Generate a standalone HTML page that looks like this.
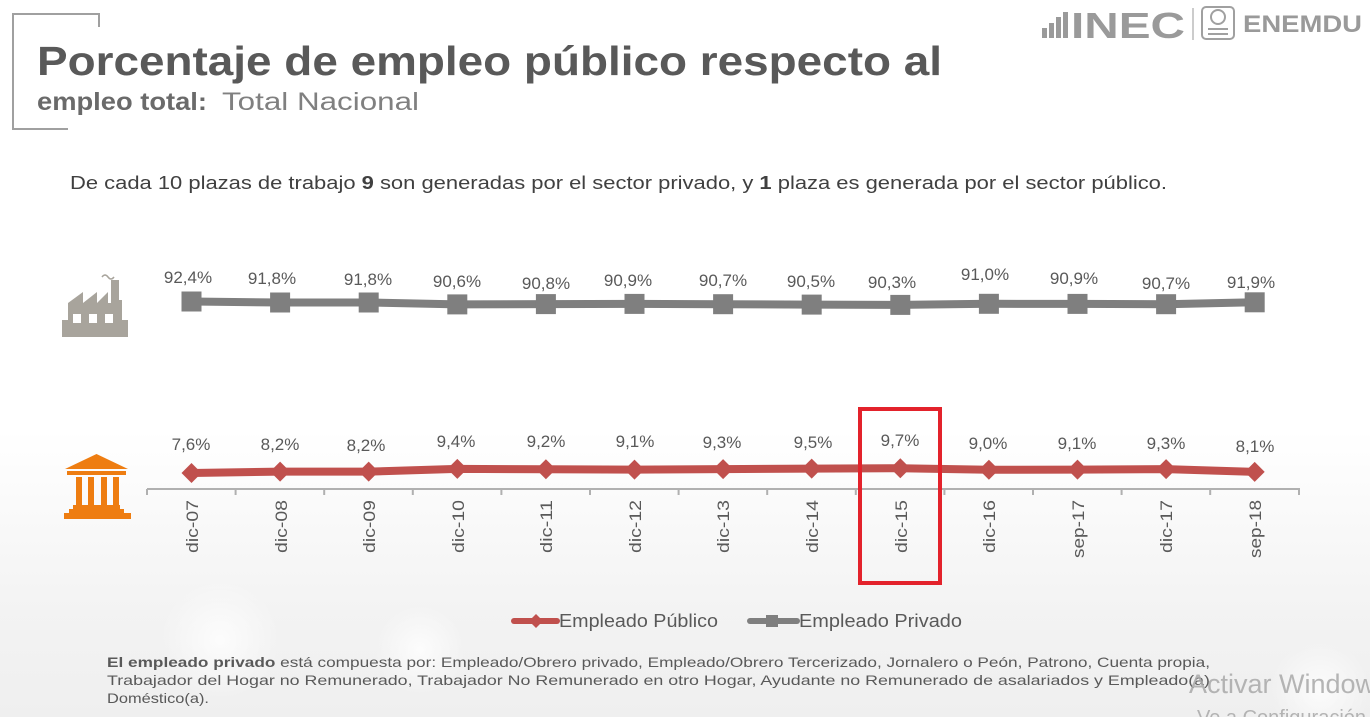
<!DOCTYPE html>
<html>
<head>
<meta charset="utf-8">
<style>
html,body{margin:0;padding:0;width:1370px;height:717px;overflow:hidden;background:#fff;}
svg{display:block;font-family:"Liberation Sans",sans-serif;}
</style>
</head>
<body>
<svg width="1370" height="717" viewBox="0 0 1370 717" xmlns="http://www.w3.org/2000/svg">
<defs>
<linearGradient id="bg" x1="0" y1="0" x2="0" y2="1">
<stop offset="0" stop-color="#ffffff"/>
<stop offset="0.6" stop-color="#ffffff"/>
<stop offset="0.85" stop-color="#f3f3f3"/>
<stop offset="1" stop-color="#efefef"/>
</linearGradient>
<radialGradient id="bk" cx="0.5" cy="0.5" r="0.5">
<stop offset="0" stop-color="#ffffff" stop-opacity="0.8"/>
<stop offset="1" stop-color="#ffffff" stop-opacity="0"/>
</radialGradient>
</defs>
<rect x="0" y="0" width="1370" height="717" fill="url(#bg)"/>
<circle cx="220" cy="640" r="60" fill="url(#bk)"/>
<circle cx="420" cy="650" r="45" fill="url(#bk)"/>
<circle cx="1320" cy="690" r="50" fill="url(#bk)"/>

<!-- bracket -->
<g stroke="#a0a0a0" stroke-width="2" fill="none">
<polyline points="99,27 99,14 13,14 13,129 68,129"/>
</g>

<!-- title -->
<text x="37" y="75" font-size="41" font-weight="bold" fill="#595959" textLength="905" lengthAdjust="spacingAndGlyphs">Porcentaje de empleo público respecto al</text>
<text x="37" y="110" font-size="25" font-weight="bold" fill="#6a6a6a" textLength="170" lengthAdjust="spacingAndGlyphs">empleo total:</text>
<text x="222" y="110" font-size="25" fill="#808080" textLength="197" lengthAdjust="spacingAndGlyphs">Total Nacional</text>

<!-- logo -->
<g fill="#9a9a9a">
<rect x="1042" y="28" width="5" height="10"/>
<rect x="1049" y="23" width="5" height="15"/>
<rect x="1056" y="17" width="5" height="21"/>
<rect x="1063" y="12" width="5" height="26"/>
<text x="1071" y="38" font-size="36" font-weight="bold" textLength="114" lengthAdjust="spacingAndGlyphs">INEC</text>
<rect x="1192" y="8" width="2" height="32" fill="#cccccc"/>
<text x="1243" y="32" font-size="24" font-weight="bold" textLength="119" lengthAdjust="spacingAndGlyphs">ENEMDU</text>
</g>
<g stroke="#a0a0a0" stroke-width="2" fill="none">
<rect x="1202" y="7" width="32" height="32" rx="4"/>
<circle cx="1218" cy="17" r="7"/>
<line x1="1208" y1="29" x2="1228" y2="29"/>
<line x1="1208" y1="34" x2="1228" y2="34"/>
</g>

<!-- subtitle -->
<text x="70" y="189" font-size="18" fill="#404040" textLength="1097" lengthAdjust="spacingAndGlyphs">De cada 10 plazas de trabajo <tspan font-weight="bold">9</tspan> son generadas por el sector privado, y <tspan font-weight="bold">1</tspan> plaza es generada por el sector público.</text>

<!-- factory icon -->
<g fill="#a8a49c">
<polygon points="68,337 68,303 83,292 83,303 97,292 97,303 108,292 108,303 111,303 111,280 119,280 119,320 122,320 122,337"/>
<rect x="62" y="320" width="66" height="17"/>
<rect x="111" y="300" width="11" height="22"/>
</g>
<path d="M102,277 q3,-4 6,0 q3,4 6,0" stroke="#a8a49c" stroke-width="1.5" fill="none"/>
<g fill="#ffffff">
<rect x="73" y="314" width="8" height="9"/>
<rect x="89" y="314" width="8" height="9"/>
<rect x="105" y="314" width="8" height="9"/>
</g>

<!-- temple icon -->
<g fill="#ee7d11">
<polygon points="65,469 96.5,454 128,469"/>
<rect x="67" y="471" width="59" height="4"/>
<rect x="76" y="477" width="6" height="28"/>
<rect x="88" y="477" width="6" height="28"/>
<rect x="101" y="477" width="6" height="28"/>
<rect x="113" y="477" width="6" height="28"/>
<rect x="73" y="505" width="47" height="4"/>
<rect x="69" y="509" width="55" height="4"/>
<rect x="64" y="513" width="67" height="6"/>
</g>

<!-- axis -->
<g stroke="#b0b0b0" stroke-width="2">
<line x1="147" y1="489" x2="1300" y2="489"/>
<line x1="147" y1="489" x2="147" y2="495"/>
<line x1="235.6" y1="489" x2="235.6" y2="495"/>
<line x1="324.2" y1="489" x2="324.2" y2="495"/>
<line x1="412.8" y1="489" x2="412.8" y2="495"/>
<line x1="501.4" y1="489" x2="501.4" y2="495"/>
<line x1="590" y1="489" x2="590" y2="495"/>
<line x1="678.6" y1="489" x2="678.6" y2="495"/>
<line x1="767.2" y1="489" x2="767.2" y2="495"/>
<line x1="855.8" y1="489" x2="855.8" y2="495"/>
<line x1="944.4" y1="489" x2="944.4" y2="495"/>
<line x1="1033" y1="489" x2="1033" y2="495"/>
<line x1="1121.6" y1="489" x2="1121.6" y2="495"/>
<line x1="1210.2" y1="489" x2="1210.2" y2="495"/>
<line x1="1299" y1="489" x2="1299" y2="495"/>
</g>

<!-- x labels -->
<g font-size="17" fill="#595959" text-anchor="end">
<text transform="translate(198,500) rotate(-90)" textLength="53" lengthAdjust="spacingAndGlyphs">dic-07</text>
<text transform="translate(287,500) rotate(-90)" textLength="53" lengthAdjust="spacingAndGlyphs">dic-08</text>
<text transform="translate(375,500) rotate(-90)" textLength="53" lengthAdjust="spacingAndGlyphs">dic-09</text>
<text transform="translate(464,500) rotate(-90)" textLength="53" lengthAdjust="spacingAndGlyphs">dic-10</text>
<text transform="translate(552,500) rotate(-90)" textLength="53" lengthAdjust="spacingAndGlyphs">dic-11</text>
<text transform="translate(641,500) rotate(-90)" textLength="53" lengthAdjust="spacingAndGlyphs">dic-12</text>
<text transform="translate(729,500) rotate(-90)" textLength="53" lengthAdjust="spacingAndGlyphs">dic-13</text>
<text transform="translate(818,500) rotate(-90)" textLength="53" lengthAdjust="spacingAndGlyphs">dic-14</text>
<text transform="translate(907,500) rotate(-90)" textLength="53" lengthAdjust="spacingAndGlyphs">dic-15</text>
<text transform="translate(995,500) rotate(-90)" textLength="53" lengthAdjust="spacingAndGlyphs">dic-16</text>
<text transform="translate(1084,500) rotate(-90)" textLength="58" lengthAdjust="spacingAndGlyphs">sep-17</text>
<text transform="translate(1172,500) rotate(-90)" textLength="53" lengthAdjust="spacingAndGlyphs">dic-17</text>
<text transform="translate(1261,500) rotate(-90)" textLength="58" lengthAdjust="spacingAndGlyphs">sep-18</text>
</g>

<!-- private series -->
<polyline fill="none" stroke="#7f7f7f" stroke-width="8" stroke-linejoin="round"
points="191.5,301.5 280.1,302.5 368.7,302.5 457.3,304.4 545.9,304.1 634.5,303.9 723.1,304.2 811.7,304.6 900.3,304.9 988.9,303.8 1077.5,303.9 1166.1,304.2 1254.7,302.3"/>
<g fill="#7f7f7f">
<rect x="181.5" y="291.5" width="20" height="20"/>
<rect x="270.1" y="292.5" width="20" height="20"/>
<rect x="358.7" y="292.5" width="20" height="20"/>
<rect x="447.3" y="294.4" width="20" height="20"/>
<rect x="535.9" y="294.1" width="20" height="20"/>
<rect x="624.5" y="293.9" width="20" height="20"/>
<rect x="713.1" y="294.2" width="20" height="20"/>
<rect x="801.7" y="294.6" width="20" height="20"/>
<rect x="890.3" y="294.9" width="20" height="20"/>
<rect x="978.9" y="293.8" width="20" height="20"/>
<rect x="1067.5" y="293.9" width="20" height="20"/>
<rect x="1156.1" y="294.2" width="20" height="20"/>
<rect x="1244.7" y="292.3" width="20" height="20"/>
</g>
<g font-size="17" fill="#595959" text-anchor="middle">
<text x="188" y="283">92,4%</text>
<text x="272" y="284">91,8%</text>
<text x="368" y="285">91,8%</text>
<text x="457" y="287">90,6%</text>
<text x="546" y="289">90,8%</text>
<text x="628" y="286">90,9%</text>
<text x="723" y="286">90,7%</text>
<text x="811" y="287">90,5%</text>
<text x="892" y="288">90,3%</text>
<text x="985" y="280">91,0%</text>
<text x="1074" y="284">90,9%</text>
<text x="1166" y="289">90,7%</text>
<text x="1251" y="288">91,9%</text>
</g>

<!-- public series -->
<polyline fill="none" stroke="#c0504d" stroke-width="8" stroke-linejoin="round"
points="191.5,473 280.1,471.6 368.7,471.6 457.3,468.9 545.9,469.3 634.5,469.6 723.1,469.1 811.7,468.6 900.3,468.2 988.9,469.8 1077.5,469.6 1166.1,469.1 1254.7,471.9"/>
<g fill="#c0504d">
<polygon points="191.5,463 201.5,473 191.5,483 181.5,473"/>
<polygon points="280.1,461.6 290.1,471.6 280.1,481.6 270.1,471.6"/>
<polygon points="368.7,461.6 378.7,471.6 368.7,481.6 358.7,471.6"/>
<polygon points="457.3,458.9 467.3,468.9 457.3,478.9 447.3,468.9"/>
<polygon points="545.9,459.3 555.9,469.3 545.9,479.3 535.9,469.3"/>
<polygon points="634.5,459.6 644.5,469.6 634.5,479.6 624.5,469.6"/>
<polygon points="723.1,459.1 733.1,469.1 723.1,479.1 713.1,469.1"/>
<polygon points="811.7,458.6 821.7,468.6 811.7,478.6 801.7,468.6"/>
<polygon points="900.3,458.2 910.3,468.2 900.3,478.2 890.3,468.2"/>
<polygon points="988.9,459.8 998.9,469.8 988.9,479.8 978.9,469.8"/>
<polygon points="1077.5,459.6 1087.5,469.6 1077.5,479.6 1067.5,469.6"/>
<polygon points="1166.1,459.1 1176.1,469.1 1166.1,479.1 1156.1,469.1"/>
<polygon points="1254.7,461.9 1264.7,471.9 1254.7,481.9 1244.7,471.9"/>
</g>
<g font-size="17" fill="#595959" text-anchor="middle">
<text x="191" y="450">7,6%</text>
<text x="280" y="450">8,2%</text>
<text x="366" y="451">8,2%</text>
<text x="456" y="447">9,4%</text>
<text x="546" y="447">9,2%</text>
<text x="635" y="447">9,1%</text>
<text x="722" y="448">9,3%</text>
<text x="813" y="448">9,5%</text>
<text x="900" y="446">9,7%</text>
<text x="988" y="449">9,0%</text>
<text x="1077" y="449">9,1%</text>
<text x="1166" y="449">9,3%</text>
<text x="1255" y="452">8,1%</text>
</g>

<!-- highlight box -->
<rect x="860" y="409" width="80" height="174" fill="none" stroke="#e3222b" stroke-width="4"/>

<!-- legend -->
<line x1="514" y1="621" x2="557" y2="621" stroke="#c0504d" stroke-width="6" stroke-linecap="round"/>
<polygon points="536,614 543,621 536,628 529,621" fill="#c0504d"/>
<text x="559" y="627" font-size="18" fill="#595959" textLength="159" lengthAdjust="spacingAndGlyphs">Empleado Público</text>
<line x1="750" y1="621" x2="797" y2="621" stroke="#7f7f7f" stroke-width="6" stroke-linecap="round"/>
<rect x="766" y="615" width="12" height="12" fill="#7f7f7f"/>
<text x="799" y="627" font-size="18" fill="#595959" textLength="163" lengthAdjust="spacingAndGlyphs">Empleado Privado</text>

<!-- footnote -->
<g font-size="14" fill="#595959">
<text x="107" y="667" textLength="1103" lengthAdjust="spacingAndGlyphs"><tspan font-weight="bold">El empleado privado</tspan> está compuesta por: Empleado/Obrero privado, Empleado/Obrero Tercerizado, Jornalero o Peón, Patrono, Cuenta propia,</text>
<text x="107" y="685" textLength="1103" lengthAdjust="spacingAndGlyphs">Trabajador del Hogar no Remunerado, Trabajador No Remunerado en otro Hogar, Ayudante no Remunerado de asalariados y Empleado(a)</text>
<text x="107" y="703" textLength="102" lengthAdjust="spacingAndGlyphs">Doméstico(a).</text>
</g>

<!-- watermark -->
<text x="1189" y="693" font-size="27" fill="#a8a8a8" fill-opacity="0.85">Activar Windows</text>
<text x="1197" y="724" font-size="20" fill="#a8a8a8" fill-opacity="0.85">Ve a Configuración</text>
</svg>
</body>
</html>
